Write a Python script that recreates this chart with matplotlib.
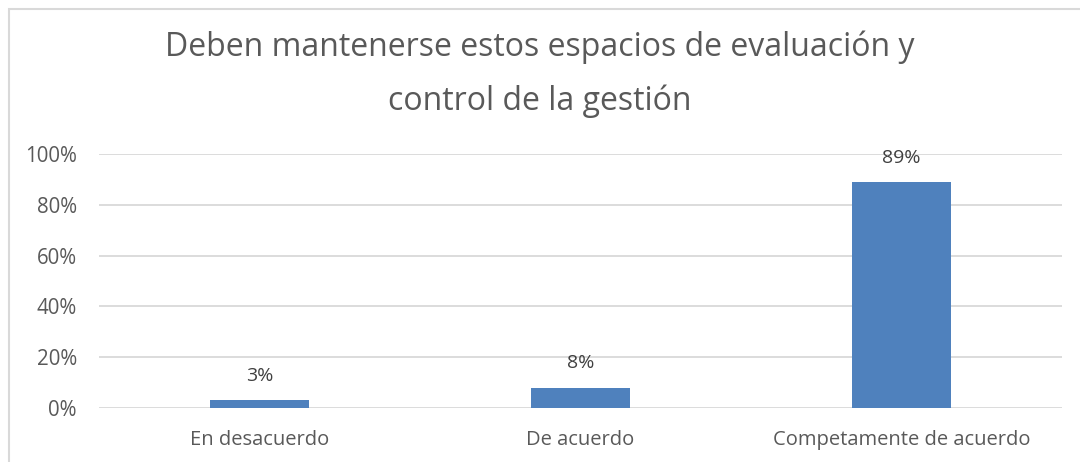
import matplotlib
matplotlib.use("Agg")
import matplotlib.pyplot as plt
from matplotlib.patches import Rectangle
from matplotlib.ticker import PercentFormatter

categorias = ["En desacuerdo", "De acuerdo", "Competamente de acuerdo"]
porcentajes = [0.03, 0.08, 0.89]
etiquetas = ["3%", "8%", "89%"]
titulo = "Deben mantenerse estos espacios de evaluación y\ncontrol de la gestión"

plt.rcParams["font.family"] = ["Open Sans", "DejaVu Sans"]

fig = plt.figure(figsize=(10.8, 4.62), dpi=100)
ax = fig.add_axes([99 / 1080, 1 - 408 / 462, 963 / 1080, 254 / 462])

barras = ax.bar(range(len(categorias)), porcentajes, width=0.31, color="#4f81bd")
ax.bar_label(barras, labels=etiquetas, padding=11, fontsize=14, color="#404040")

ax.set_xlim(-0.5, len(categorias) - 0.5)
ax.set_ylim(0, 1.0)
ax.set_yticks([0, 0.2, 0.4, 0.6, 0.8, 1.0])
ax.yaxis.set_major_formatter(PercentFormatter(1.0, decimals=0))
ax.set_xticks(range(len(categorias)))
ax.set_xticklabels(categorias)
ax.tick_params(axis="y", length=0, pad=16, labelsize=14.8, labelcolor="#595959")
ax.tick_params(axis="x", length=0, pad=16, labelsize=14.5, labelcolor="#595959")
ax.grid(axis="y", color="#d9d9d9", linewidth=1.3)
ax.set_axisbelow(True)
for s in ax.spines.values():
    s.set_visible(False)

fig.text(0.5, 1 - 110 / 462, titulo, ha="center", va="baseline", fontsize=23,
         color="#595959", linespacing=1.82)

fig.add_artist(Rectangle((9 / 1080, -0.2), 2, (462 - 9) / 462 + 0.2,
                         transform=fig.transFigure, fill=False,
                         edgecolor="#d9d9d9", linewidth=1.5))

fig.savefig("out.png", dpi=100)
